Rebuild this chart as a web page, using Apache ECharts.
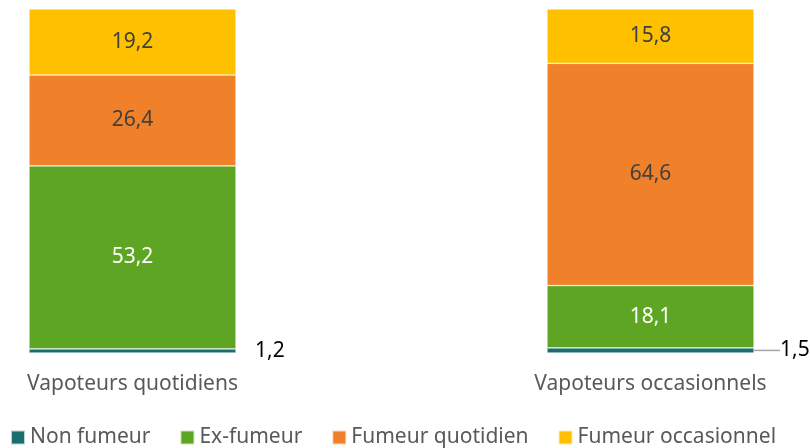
<!DOCTYPE html>
<html>
<head>
<meta charset="utf-8">
<script src="https://cdn.jsdelivr.net/npm/echarts@6/dist/echarts.min.js"></script>
<style>
  html, body { margin: 0; padding: 0; background: #fff; }
  #show { width: 810px; height: 448px; }
</style>
</head>
<body>
<div id="show"></div>
<script>
// catégories et valeurs (%)
var categories = ['Vapoteurs quotidiens', 'Vapoteurs occasionnels'];
var nonFumeur = [1.2, 1.5];
var exFumeur = [53.2, 18.1];
var fumeurQuotidien = [26.4, 64.6];
var fumeurOccasionnel = [19.2, 15.8];

var fmt = function (p) { return String(p.value).replace('.', ','); };
var police = '"Noto Sans", sans-serif';

var myChart = echarts.init(document.getElementById('show'));

function serie(name, values, color, textColor) {
    return {
        name: name,
        type: 'bar',
        stack: 'total',
        barWidth: 207,
        data: values,
        itemStyle: { color: color, borderColor: 'rgba(255,255,255,0.7)', borderWidth: 0.6 },
        label: {
            show: true,
            position: 'inside',
            formatter: fmt,
            color: textColor,
            fontSize: 21,
            fontFamily: police
        }
    };
}

var s0 = serie('Non fumeur', [], '#1B6E6E', '#000');
// petites valeurs : étiquette à droite, avec trait de rappel pour la 2e barre
s0.data = [
    { value: nonFumeur[0], labelLine: { show: false } },
    { value: nonFumeur[1], labelLine: { show: true }, label: { padding: [0, 0, 0, 9] } }
];
s0.label.position = 'right';
s0.label.distance = 19;
s0.label.offset = [0, -5];
s0.labelLine = { show: true, lineStyle: { color: '#A6A6A6', width: 1.5 } };
s0.labelLayout = function (params) {
    if (params.dataIndex === 1) {
        return { dx: -2 };
    }
};

var option = {
    animation: false,
    grid: { left: 132.5, right: 159.5, top: 9, bottom: 95 },
    xAxis: {
        type: 'category',
        data: categories,
        boundaryGap: false,
        axisLine: { show: false },
        axisTick: { show: false },
        axisLabel: { color: '#595959', fontSize: 21, fontFamily: police, margin: 21 }
    },
    yAxis: { type: 'value', min: 0, max: 100, show: false },
    legend: {
        left: 10,
        top: 427,
        padding: 0,
        itemWidth: 14,
        itemHeight: 14,
        itemGap: 29,
        icon: 'rect',
        textStyle: { color: '#595959', fontSize: 21, fontFamily: police },
        data: ['Non fumeur', 'Ex-fumeur', 'Fumeur quotidien', 'Fumeur occasionnel']
    },
    series: [
        s0,
        serie('Ex-fumeur', exFumeur, '#5EA524', '#fff'),
        serie('Fumeur quotidien', fumeurQuotidien, '#F0812A', '#404040'),
        serie('Fumeur occasionnel', fumeurOccasionnel, '#FFC000', '#404040')
    ]
};
myChart.setOption(option);
</script>
</body>
</html>
